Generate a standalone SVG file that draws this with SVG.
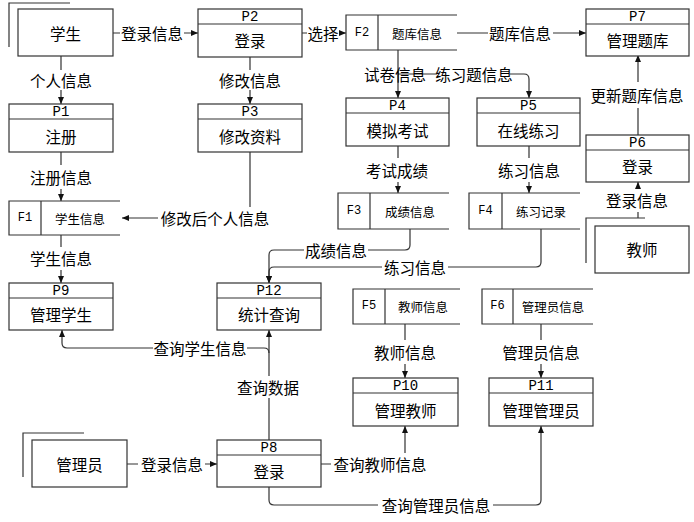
<svg xmlns="http://www.w3.org/2000/svg" width="694" height="522" viewBox="0 0 694 522">
<style>
.b{fill:#fff;stroke:#333;stroke-width:1.2}
.l{fill:none;stroke:#333;stroke-width:1.2}
.t{font-family:"Noto Sans CJK SC","Noto Sans",sans-serif;font-size:15.5px;text-anchor:middle;dominant-baseline:central;fill:#000}
.s{font-family:"Noto Sans CJK SC","Noto Sans",sans-serif;font-size:12.5px;text-anchor:middle;dominant-baseline:central;fill:#000}
.h{font-family:"Liberation Mono",monospace;font-size:14px;text-anchor:middle;dominant-baseline:central;fill:#000}
.f{font-family:"Liberation Mono",monospace;font-size:12px;text-anchor:middle;dominant-baseline:central;fill:#000}
</style>
<defs>
<marker id="a" markerUnits="userSpaceOnUse" markerWidth="7" markerHeight="7" refX="7" refY="3.5" orient="auto">
<path d="M0,0.5 L7,3.5 L0,6.5 z" fill="#111"/>
</marker>
</defs>
<rect width="694" height="522" fill="#fff"/>

<g id="connectors">
<path class="l" d="M113,33 H120 M184,33 H198" marker-end="url(#a)"/>
<path class="l" d="M61,56 V70 M61,90 V104" marker-end="url(#a)"/>
<path class="l" d="M250,57 V70 M250,90 V104" marker-end="url(#a)"/>
<path class="l" d="M302,33 H307 M340,33 H346" marker-end="url(#a)"/>
<path class="l" d="M457,33 H488 M553,33 H586" marker-end="url(#a)"/>
<path class="l" d="M398,50 V98" marker-end="url(#a)"/>
<path class="l" d="M398,74 H437 M510,74 H524 Q529,74 529,79 V98" marker-end="url(#a)"/>
<path class="l" d="M61,152 V165 M61,189 V201" marker-end="url(#a)"/>
<path class="l" d="M250,152 V207 M158,218 H122" marker-end="url(#a)"/>
<path class="l" d="M398,146 V158 M398,182 V193" marker-end="url(#a)"/>
<path class="l" d="M529,146 V158 M529,182 V193" marker-end="url(#a)"/>
<path class="l" d="M638,135 V108 M638,82 V55" marker-end="url(#a)"/>
<path class="l" d="M638,218 V212 M638,189 V182" marker-end="url(#a)"/>
<path class="l" d="M61,235 V247 M61,270 V283" marker-end="url(#a)"/>
<path class="l" d="M410,229 V245 Q410,250 405,250 H368 M304,250 H274 Q269,250 269,255 V283" marker-end="url(#a)"/>
<path class="l" d="M541,229 V262 Q541,267 536,267 H448 M382,267 H274 Q269,267 269,272 V283" marker-end="url(#a)"/>
<path class="l" d="M269,440 V398 M269,376 V330" marker-end="url(#a)"/>
<path class="l" d="M247,348 H264 Q269,348 269,353 M153,348 H67 Q62,348 62,343 V330" marker-end="url(#a)"/>
<path class="l" d="M127,464 H138 M205,464 H217" marker-end="url(#a)"/>
<path class="l" d="M321,464 H331 M405,453 V426" marker-end="url(#a)"/>
<path class="l" d="M269,487 V500 Q269,505 274,505 H378 M493,505 H536 Q541,505 541,500 V426" marker-end="url(#a)"/>
<path class="l" d="M405,324 V340 M405,364 V378" marker-end="url(#a)"/>
<path class="l" d="M541,324 V340 M541,364 V378" marker-end="url(#a)"/>
<text class="t" x="152" y="33">登录信息</text>
<text class="t" x="61" y="80">个人信息</text>
<text class="t" x="250" y="80">修改信息</text>
<text class="t" x="323" y="33">选择</text>
<text class="t" x="520" y="33">题库信息</text>
<text class="t" x="395" y="74">试卷信息</text>
<text class="t" x="474" y="74">练习题信息</text>
<text class="t" x="61" y="177">注册信息</text>
<text class="t" x="215" y="218">修改后个人信息</text>
<text class="t" x="397" y="170">考试成绩</text>
<text class="t" x="529" y="170">练习信息</text>
<text class="t" x="637" y="95">更新题库信息</text>
<text class="t" x="637" y="200">登录信息</text>
<text class="t" x="61" y="258">学生信息</text>
<text class="t" x="336" y="250">成绩信息</text>
<text class="t" x="415" y="267">练习信息</text>
<text class="t" x="268" y="387">查询数据</text>
<text class="t" x="200" y="348">查询学生信息</text>
<text class="t" x="172" y="464">登录信息</text>
<text class="t" x="380" y="464">查询教师信息</text>
<text class="t" x="436" y="505">查询管理员信息</text>
<text class="t" x="405" y="352">教师信息</text>
<text class="t" x="541" y="352">管理员信息</text>
</g>

<g id="E_student">
<path class="l" d="M9,47 V3 H70"/>
<rect class="b" x="18" y="9" width="95" height="47"/>
<text class="t" x="65.5" y="33">学生</text>
</g>
<g id="E_teacher">
<path class="l" d="M586,263 V218 H645"/>
<rect class="b" x="595" y="226" width="94" height="47"/>
<text class="t" x="642" y="249">教师</text>
</g>
<g id="E_admin">
<path class="l" d="M23,477 V433 H84"/>
<rect class="b" x="32" y="440" width="95" height="47"/>
<text class="t" x="79.5" y="464">管理员</text>
</g>

<g id="P1"><rect class="b" x="9" y="104" width="104" height="48"/><path class="l" d="M9,119 H113"/><text class="h" x="61" y="112">P1</text><text class="t" x="61" y="136">注册</text></g>
<g id="P2"><rect class="b" x="198" y="9" width="104" height="48"/><path class="l" d="M198,24 H302"/><text class="h" x="250" y="17">P2</text><text class="t" x="250" y="40">登录</text></g>
<g id="P3"><rect class="b" x="198" y="104" width="104" height="48"/><path class="l" d="M198,119 H302"/><text class="h" x="250" y="112">P3</text><text class="t" x="250" y="136">修改资料</text></g>
<g id="P4"><rect class="b" x="346" y="98" width="103" height="48"/><path class="l" d="M346,113 H449"/><text class="h" x="397.5" y="106">P4</text><text class="t" x="397.5" y="130">模拟考试</text></g>
<g id="P5"><rect class="b" x="477" y="98" width="103" height="48"/><path class="l" d="M477,113 H580"/><text class="h" x="528.5" y="106">P5</text><text class="t" x="528.5" y="130">在线练习</text></g>
<g id="P6"><rect class="b" x="586" y="135" width="103" height="47"/><path class="l" d="M586,150 H689"/><text class="h" x="637.5" y="143">P6</text><text class="t" x="637.5" y="166">登录</text></g>
<g id="P7"><rect class="b" x="586" y="9" width="103" height="47"/><path class="l" d="M586,24 H689"/><text class="h" x="637.5" y="17">P7</text><text class="t" x="637.5" y="40">管理题库</text></g>
<g id="P9"><rect class="b" x="9" y="283" width="104" height="47"/><path class="l" d="M9,298 H113"/><text class="h" x="61" y="291">P9</text><text class="t" x="61" y="314">管理学生</text></g>
<g id="P12"><rect class="b" x="217" y="283" width="104" height="47"/><path class="l" d="M217,298 H321"/><text class="h" x="269" y="291">P12</text><text class="t" x="269" y="314">统计查询</text></g>
<g id="P8"><rect class="b" x="217" y="440" width="104" height="47"/><path class="l" d="M217,455 H321"/><text class="h" x="269" y="448">P8</text><text class="t" x="269" y="471">登录</text></g>
<g id="P10"><rect class="b" x="353" y="378" width="105" height="48"/><path class="l" d="M353,393 H458"/><text class="h" x="405.5" y="386">P10</text><text class="t" x="405.5" y="410">管理教师</text></g>
<g id="P11"><rect class="b" x="489" y="378" width="104" height="48"/><path class="l" d="M489,393 H593"/><text class="h" x="541" y="386">P11</text><text class="t" x="541" y="410">管理管理员</text></g>

<g id="F1"><path class="l" d="M120,201 H9 V235 H120 M41,201 V235"/><text class="f" x="25" y="218">F1</text><text class="s" x="80" y="218">学生信息</text></g>
<g id="F2"><path class="l" d="M457,15 H346 V50 H457 M378,15 V50"/><text class="f" x="362" y="33">F2</text><text class="s" x="417" y="33">题库信息</text></g>
<g id="F3"><path class="l" d="M449,193 H338 V229 H449 M370,193 V229"/><text class="f" x="354" y="211">F3</text><text class="s" x="410" y="211">成绩信息</text></g>
<g id="F4"><path class="l" d="M580,193 H469 V229 H580 M502,193 V229"/><text class="f" x="485.5" y="211">F4</text><text class="s" x="541" y="211">练习记录</text></g>
<g id="F5"><path class="l" d="M460,289 H353 V324 H460 M385,289 V324"/><text class="f" x="369" y="306">F5</text><text class="s" x="423" y="306">教师信息</text></g>
<g id="F6"><path class="l" d="M593,289 H482 V324 H593 M513,289 V324"/><text class="f" x="497.5" y="306">F6</text><text class="s" x="553" y="306">管理员信息</text></g>
</svg>
